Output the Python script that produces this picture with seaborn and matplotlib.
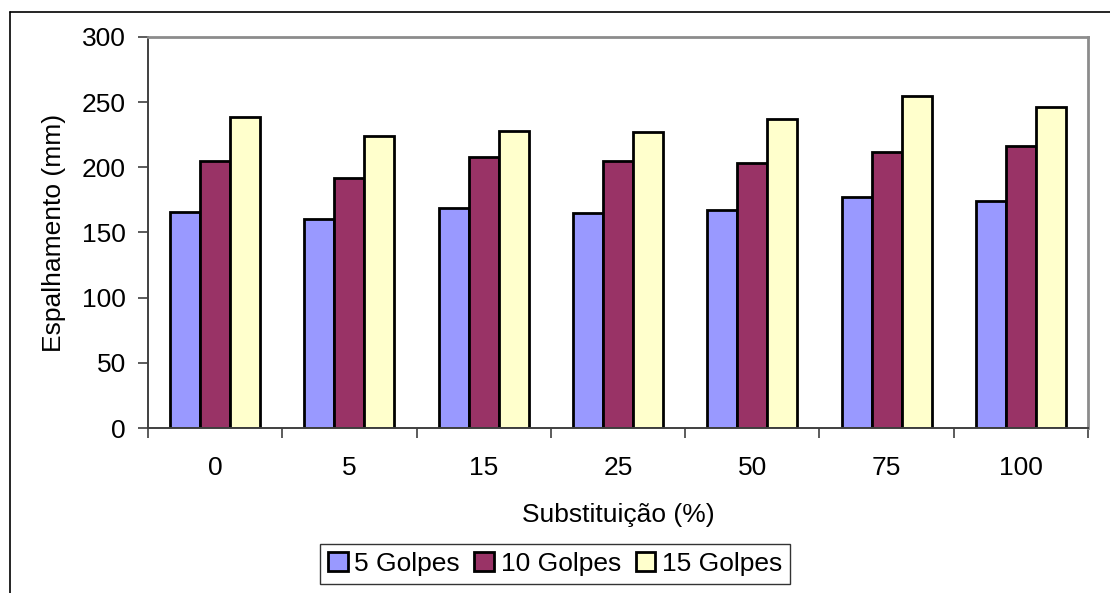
import numpy as np
import pandas as pd
import matplotlib
matplotlib.use("Agg")
import matplotlib.pyplot as plt
from matplotlib.lines import Line2D
import seaborn as sns

# Data
categories = ["0", "5", "15", "25", "50", "75", "100"]
series_names = ["5 Golpes", "10 Golpes", "15 Golpes"]
golpes_5 = [166, 160, 169, 165, 167, 177, 174]
golpes_10 = [205, 192, 208, 205, 203, 212, 216]
golpes_15 = [239, 224, 228, 227, 237, 255, 246]
colors = ["#9999FF", "#993366", "#FFFFCC"]
y_ticks = [0, 50, 100, 150, 200, 250, 300]

df = pd.DataFrame({
    "Substituição": categories * 3,
    "Espalhamento": golpes_5 + golpes_10 + golpes_15,
    "Série": [s for s in series_names for _ in categories],
})

sns.set_theme(style="white")
plt.rcParams["font.family"] = ["Liberation Sans", "DejaVu Sans"]
plt.rcParams.update({"text.color": "black", "axes.labelcolor": "black",
                     "xtick.color": "black", "ytick.color": "black"})
FS = 19

fig = plt.figure(figsize=(11.1, 5.93), dpi=100)
ax = fig.add_axes([148 / 1110, 1 - 428 / 593, (1088 - 148) / 1110, (428 - 37) / 593])

sns.barplot(data=df, x="Substituição", y="Espalhamento", hue="Série",
            order=categories, hue_order=series_names, palette=colors,
            saturation=1, width=0.67, gap=0, edgecolor="black", linewidth=2,
            ax=ax, legend=True)

ax.set_xlim(-0.5, len(categories) - 0.5)
ax.set_ylim(0, 300)
ax.set_yticks(y_ticks)
ax.set_yticklabels([str(v) for v in y_ticks], fontsize=FS)

# Tick marks between categories, labels centred under each group
ax.set_xticks(np.arange(-0.5, len(categories), 1))
ax.set_xticklabels([])
ax.set_xticks(np.arange(len(categories)), minor=True)
ax.set_xticklabels(categories, minor=True, fontsize=FS)
ax.tick_params(axis="x", which="major", direction="out", length=7, width=1.2,
               color="#404040", bottom=True)
ax.tick_params(axis="x", which="minor", length=0, pad=20, labelcolor="black")
ax.tick_params(axis="y", direction="out", length=7, width=1.2, color="#404040",
               labelcolor="black", left=True, pad=9)

ax.set_xlabel("Substituição (%)", fontsize=FS, labelpad=17, color="black")
ax.set_ylabel("Espalhamento (mm)", fontsize=FS, labelpad=11, color="black")

for side in ("left", "bottom"):
    ax.spines[side].set_color("#404040")
    ax.spines[side].set_linewidth(1.4)
for side in ("top", "right"):
    ax.spines[side].set_color("#8c8c8c")
    ax.spines[side].set_linewidth(2)

handles, labels = ax.get_legend_handles_labels()
leg = ax.legend(handles, labels, loc="center", bbox_to_anchor=(555 / 1110, 1 - 564 / 593),
                bbox_transform=fig.transFigure, ncol=3, fontsize=FS, frameon=True,
                fancybox=False, edgecolor="black", handlelength=0.75, handleheight=0.75,
                handletextpad=0.25, columnspacing=0.55, borderpad=0.3, borderaxespad=0)
leg.get_frame().set_linewidth(1)
for t in leg.get_texts():
    t.set_color("black")

# Outer chart frame
fig.add_artist(Line2D([10 / 1110, 1], [1 - 12 / 593, 1 - 12 / 593], color="black", lw=1.2,
                      transform=fig.transFigure))
fig.add_artist(Line2D([10 / 1110, 10 / 1110], [0, 1 - 12 / 593], color="black", lw=1.2,
                      transform=fig.transFigure))

fig.savefig("out.png", dpi=100)
